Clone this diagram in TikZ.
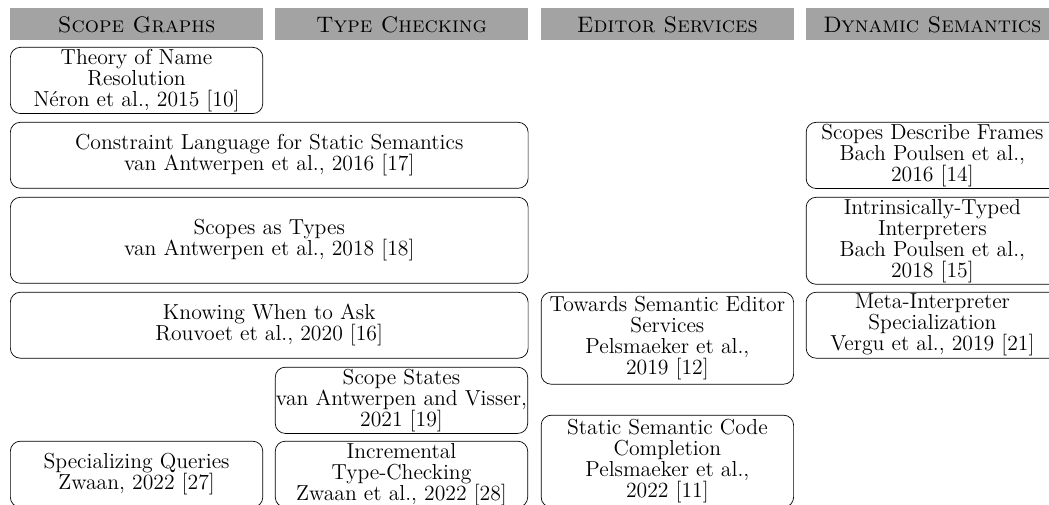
\documentclass[tikz,border=0pt]{standalone}
\usepackage{tikz}

\begin{document}
\begin{tikzpicture}[
	every node/.style={font=\fontsize{12.4}{12}\selectfont},
	header/.style={fill=black!36, anchor=north west, inner sep=0pt,
		font=\fontsize{12.8}{13}\selectfont\scshape,
		minimum width=5.07cm, minimum height=0.643cm},
	paper/.style={draw, rounded corners=2mm, anchor=north west, align=center,
		inner xsep=0pt, inner ysep=1pt, minimum width=5.07cm, minimum height=1.325cm},
	wide/.style={minimum width=10.40cm},
	tall/.style={minimum height=1.727cm},
	taller/.style={minimum height=1.847cm}]
	\clip (0,0) rectangle (21.07,-10.14);

	\node[header] (hsg) at (0.201,-0.161) {Scope Graphs};
	\node[header] (htc) at (5.522,-0.161) {Type Checking};
	\node[header] (hes) at (10.863,-0.161) {Editor Services};
	\node[header] (hds) at (16.185,-0.161) {Dynamic Semantics};

	\node[paper] (nr) at (0.201,-0.944) {Theory of Name\\Resolution\\N\'eron et al., 2015 [10]};
	\node[paper,wide] (cl) at (0.201,-2.450) {Constraint Language for Static Semantics\\van Antwerpen et al., 2016 [17]};
	\node[paper,wide,tall] (st) at (0.201,-3.956) {Scopes as Types\\van Antwerpen et al., 2018 [18]};
	\node[paper,wide] (kw) at (0.201,-5.863) {Knowing When to Ask\\Rouvoet et al., 2020 [16]};
	\node[paper] (ss) at (5.522,-7.369) {Scope States\\van Antwerpen and Visser,\\2021 [19]};
	\node[paper] (sq) at (0.201,-8.855) {Specializing Queries\\Zwaan, 2022 [27]};
	\node[paper] (it) at (5.522,-8.855) {Incremental\\Type-Checking\\Zwaan et al., 2022 [28]};

	\node[paper,taller] (es) at (10.863,-5.863) {Towards Semantic Editor\\Services\\Pelsmaeker et al.,\\2019 [12]};
	\node[paper,taller] (cc) at (10.863,-8.333) {Static Semantic Code\\Completion\\Pelsmaeker et al.,\\2022 [11]};

	\node[paper] (sf) at (16.185,-2.450) {Scopes Describe Frames\\Bach Poulsen et al.,\\2016 [14]};
	\node[paper,tall] (ti) at (16.185,-3.956) {Intrinsically-Typed\\Interpreters\\Bach Poulsen et al.,\\2018 [15]};
	\node[paper] (mi) at (16.185,-5.863) {Meta-Interpreter\\Specialization\\Vergu et al., 2019 [21]};
\end{tikzpicture}
\end{document}
